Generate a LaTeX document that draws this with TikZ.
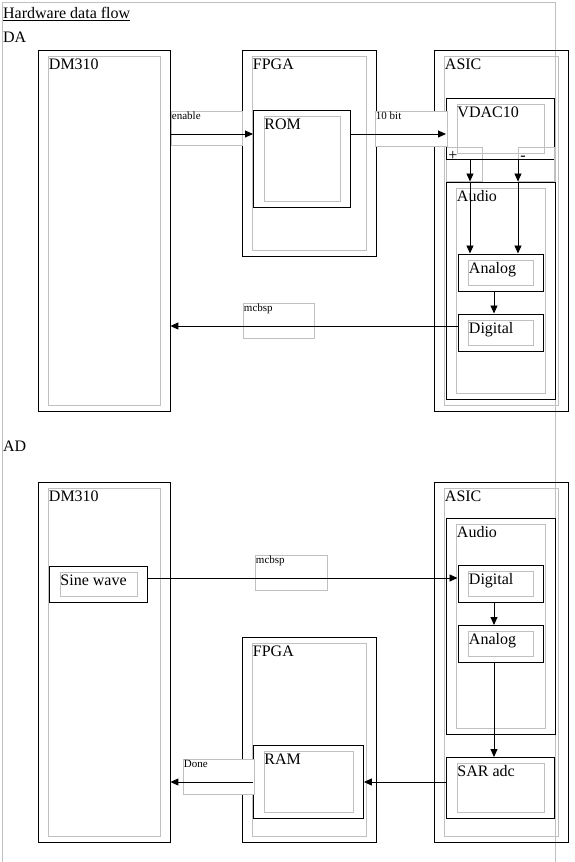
\documentclass[tikz,border=0pt]{standalone}
\usepackage{fontspec}
\setmainfont{Liberation Serif}
\usetikzlibrary{arrows.meta}
\definecolor{boxgray}{RGB}{192,192,192}
\newcommand\bigtxt{\fontsize{16bp}{19bp}\selectfont}
\newcommand\smalltxt{\fontsize{11bp}{13bp}\selectfont}

\begin{document}
\begin{tikzpicture}[x=1bp,y=-1bp,line width=0.9bp,font=\bigtxt]
   \tikzset{box/.style n args={3}{draw, anchor=north west, inner sep=0pt, minimum width=#1bp, minimum height=#2bp,
        path picture={\draw[boxgray] ([shift={(10.5bp,-6bp)}]path picture bounding box.north west) rectangle ([shift={(-10bp,6bp)}]path picture bounding box.south east);},
        label={[anchor=base west, inner sep=0pt, xshift=11bp, yshift=-19.5bp, font=\bigtxt]north west:#3}},
      tag/.style n args={3}{draw=boxgray, anchor=north west, inner sep=0pt, minimum width=#1bp, minimum height=#2bp,
        label={[anchor=base west, inner sep=0pt, xshift=1bp, yshift=-8.5bp, font=\smalltxt]north west:#3}},
      sign/.style n args={3}{draw=boxgray, anchor=north west, inner sep=0pt, minimum width=#1bp, minimum height=#2bp,
        label={[anchor=base west, inner sep=0pt, xshift=2bp, yshift=-13bp, font=\bigtxt]north west:#3}},
      arr/.style={-{Triangle[length=8bp,width=7bp]}}};

\useasboundingbox (0,0) rectangle (575,862);
\draw[boxgray] (2.5,862) -- (2.5,2.5) -- (555.5,2.5) -- (555.5,862);

\node[anchor=base west, inner sep=0pt] (title) at (2.7,18.3) {\underline{Hardware data flow}};
\node[anchor=base west, inner sep=0pt] (da) at (2.7,42.7) {DA};
\node[anchor=base west, inner sep=0pt] (ad) at (2.7,451) {AD};

% DA
\node[box={132}{361}{DM310}] (dmA) at (37.5,49.5) {};
\node[box={134}{206}{FPGA}] (fpgaA) at (241.5,49.5) {};
\node[box={97}{97}{ROM}] (rom) at (253,109.5) {};
\node[box={134}{361}{ASIC}] (asicA) at (433.5,49.5) {};
\node[box={109}{217}{Audio}] (audioA) at (445.5,181.5) {};
\node[sign={36}{34}{+}, fill=white] (plus) at (446,147) {};
\node[box={108}{61}{VDAC10}] (vdac) at (446,97.5) {};
\node[sign={36}{34}{-}] (minus) at (518,147) {};
\node[box={85}{37}{Analog}] (analogA) at (457.5,253.5) {};
\node[box={85}{37}{Digital}] (digitalA) at (457.5,313.5) {};

\node[tag={71}{34}{enable}] (enable) at (170.5,111) {};
\node[tag={72}{35}{10 bit}, fill=white] (tenbit) at (374.5,110.5) {};
\node[tag={71}{35}{mcbsp}] (mcbspA) at (242.5,302.5) {};

\draw[arr] (dmA.east |- 0,134) -- (rom.west |- 0,134);
\draw[arr] (rom.east |- 0,134) -- (vdac.west |- 0,134);
\draw[arr] (vdac.south -| 470,0) -- (audioA.north -| 470,0);
\draw[arr] (audioA.north -| 470,0) -- (analogA.north -| 470,0);
\draw[arr] (vdac.south -| 518,0) -- (audioA.north -| 518,0);
\draw[arr] (audioA.north -| 518,0) -- (analogA.north -| 518,0);
\draw[arr] (analogA.south -| 494,0) -- (digitalA.north -| 494,0);
\draw[arr] (digitalA.west |- 0,326) -- (dmA.east |- 0,326);

% AD
\node[box={132}{360}{DM310}] (dmB) at (37.5,481.5) {};
\node[box={98}{36}{Sine wave}] (sine) at (49,566) {};
\node[box={134}{205}{FPGA}] (fpgaB) at (241.5,637) {};
\node[box={110}{73}{RAM}] (ram) at (253,745) {};
\node[box={134}{360}{ASIC}] (asicB) at (433.5,481.5) {};
\node[box={109}{216}{Audio}] (audioB) at (445.5,517.5) {};
\node[box={85}{37}{Digital}] (digitalB) at (457.5,565) {};
\node[box={85}{37}{Analog}] (analogB) at (457.5,625) {};
\node[box={108}{61}{SAR adc}] (sar) at (446,757) {};

\node[tag={72}{35}{mcbsp}] (mcbspB) at (254.5,554.5) {};
\node[tag={71}{35}{Done}, fill=white] (done) at (182.5,758.5) {};

\draw[arr] (sine.east |- 0,578) -- (digitalB.west |- 0,578);
\draw[arr] (digitalB.south -| 494,0) -- (analogB.north -| 494,0);
\draw[arr] (analogB.south -| 494,0) -- (sar.north -| 494,0);
\draw[arr] (sar.west |- 0,782) -- (ram.east |- 0,782);
\draw[arr] (ram.west |- 0,782) -- (dmB.east |- 0,782);

\end{tikzpicture}
\end{document}
